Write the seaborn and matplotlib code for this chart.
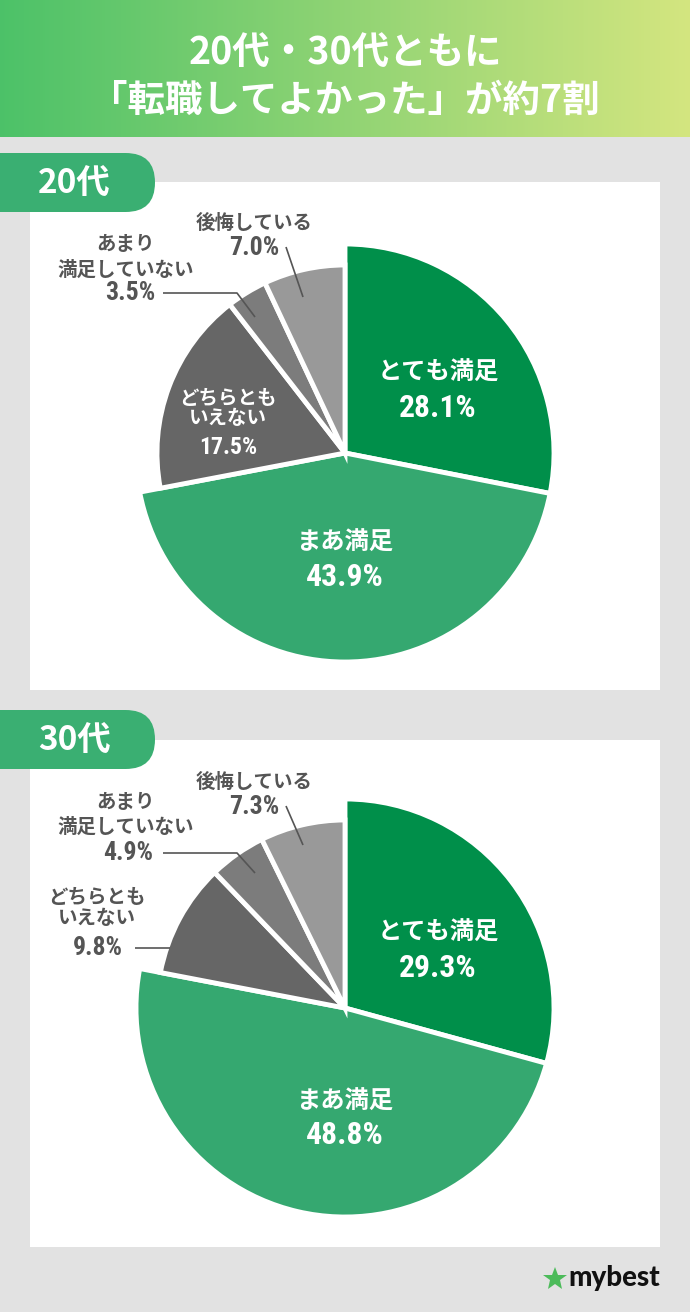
import numpy as np
import matplotlib.pyplot as plt
import seaborn as sns
from matplotlib import font_manager
from matplotlib.patches import Rectangle, FancyBboxPatch

sns.set_theme(style="white")
plt.rcParams['font.family'] = ['Noto Sans CJK JP', 'DejaVu Sans']

# データ
categories = ["とても満足", "まあ満足", "どちらとも\nいえない", "あまり\n満足していない", "後悔している"]
values_20s = [28.1, 43.9, 17.5, 3.5, 7.0]
values_30s = [29.3, 48.8, 9.8, 4.9, 7.3]
colors = ["#008f4a", "#35a870", "#666666", "#7c7c7c", "#999999"]

W, H = 690, 1312
JP = ['Noto Sans CJK JP', 'DejaVu Sans']
GRAY_TXT = "#555555"

# 数字用の細めのフォントを探す（なければ Noto を小さめに）
installed = {(f.name, f.stretch) for f in font_manager.fontManager.ttflist}
names = {n for n, s in installed}
NUM_STRETCH = 'normal'
NUM_SCALE = 1.0
if 'Liberation Sans Narrow' in names:
    NUM = ['Liberation Sans Narrow', 'Noto Sans CJK JP']
elif 'Roboto Condensed' in names:
    NUM = ['Roboto Condensed', 'Noto Sans CJK JP']
    NUM_SCALE = 0.95
elif ('DejaVu Sans', 'condensed') in installed:
    NUM = ['DejaVu Sans', 'Noto Sans CJK JP']
    NUM_STRETCH = 'condensed'
    NUM_SCALE = 0.9
else:
    NUM = ['Noto Sans CJK JP', 'DejaVu Sans']
    NUM_SCALE = 0.9

fig = plt.figure(figsize=(W / 100, H / 100), dpi=100, facecolor="#e2e2e2")
bg = fig.add_axes([0, 0, 1, 1])
bg.set_xlim(0, W)
bg.set_ylim(H, 0)
bg.axis('off')

# ヘッダーのグラデーション
c0 = np.array([0.30, 0.76, 0.41])
c1 = np.array([0.83, 0.90, 0.50])
t = np.linspace(0, 1, 256)[None, :, None]
grad = c0 + (c1 - c0) * t
bg.imshow(grad, extent=[0, W, 137, 0], aspect='auto', zorder=0)
bg.text(345, 52, "20代・30代ともに", ha='center', va='center', fontsize=27,
        fontweight='bold', color='white', family=JP)
bg.text(345, 100, "「転職してよかった」が約7割", ha='center', va='center', fontsize=27,
        fontweight='bold', color='white', family=JP)

# ロゴ
bg.plot([555], [1279], marker='*', markersize=18, color="#4cbb5a", markeredgewidth=0)
bg.text(568, 1278, "mybest", ha='left', va='center', fontsize=20, fontweight='black',
        color="#111111", family=['Lato', 'DejaVu Sans'])


def pct(v):
    return f"{v:.1f}%"


def num_text(ax, x, y, s, size, color, ha='center'):
    ax.text(x, y, s, ha=ha, va='center', fontsize=size * NUM_SCALE, fontweight='bold',
            color=color, family=NUM, fontstretch=NUM_STRETCH)


def inside(ax, idx, values, x, y_name, y_pct, name_size=17.5, pct_size=24, spacing=21):
    for k, line in enumerate(categories[idx].split("\n")):
        ax.text(x, y_name - k * spacing, line, ha='center', va='center', fontsize=name_size,
                fontweight='bold', color='white', family=JP)
    num_text(ax, x, y_pct, pct(values[idx]), pct_size, 'white')


def outside(ax, idx, values, x_name, y_name, x_pct, y_pct, ha, leader, spacing=25):
    for k, line in enumerate(categories[idx].split("\n")):
        ax.text(x_name, y_name - k * spacing, line, ha='center', va='center', fontsize=14,
                fontweight='bold', color=GRAY_TXT, family=JP)
    num_text(ax, x_pct, y_pct, pct(values[idx]), 19.5, GRAY_TXT, ha=ha)
    xs, ys = zip(*leader)
    ax.plot(xs, ys, color=GRAY_TXT, lw=1.2, solid_capstyle='butt')


def panel(top, bottom, cy, tab_top, tab_text, values):
    bg.add_patch(Rectangle((30, top), 630, bottom - top, facecolor='white', edgecolor='none', zorder=1))
    bg.add_patch(FancyBboxPatch((-60, tab_top), 215, 59, boxstyle="round,pad=0,rounding_size=29.5",
                                facecolor="#3aaf72", edgecolor='none', zorder=2))
    bg.text(38, tab_top + 30, tab_text, ha='left', va='center', fontsize=24,
            fontweight='bold', color='white', family=JP, zorder=3)

    ax = fig.add_axes([30 / W, 1 - bottom / H, 630 / W, (bottom - top) / H])
    wedges, _ = ax.pie(values, colors=colors, startangle=90, counterclock=False, radius=209,
                       wedgeprops=dict(edgecolor='white', linewidth=3.5))
    for w in wedges[2:]:
        w.set_radius(188)
    ax.set_xlim(-315, 315)
    ax.set_ylim(cy - bottom, cy - top)
    ax.set_aspect('equal')
    return ax


# 20代
ax1 = panel(182, 690, 453, 153, "20代", values_20s)
inside(ax1, 0, values_20s, 93, 80, 45)
inside(ax1, 1, values_20s, 0, -90, -124)
inside(ax1, 2, values_20s, -117, 55, 6, name_size=14, pct_size=18, spacing=20)
outside(ax1, 4, values_20s, -91, 230, -91, 205, 'center', [(-59, 206), (-42, 156)])
outside(ax1, 3, values_20s, -219, 208, -190, 160, 'right', [(-182, 160), (-108, 160), (-90, 136)])

# 30代
ax2 = panel(740, 1247, 1008, 710, "30代", values_30s)
inside(ax2, 0, values_30s, 93, 75, 40)
inside(ax2, 1, values_30s, 0, -94, -127)
outside(ax2, 4, values_30s, -91, 226, -91, 201, 'center', [(-59, 202), (-42, 163)])
outside(ax2, 3, values_30s, -219, 206, -192, 155, 'right', [(-182, 155), (-108, 155), (-90, 135)])
outside(ax2, 2, values_30s, -248, 111, -222, 60, 'right', [(-210, 60), (-175, 60)], spacing=21)

fig.savefig("out.png", dpi=100, facecolor=fig.get_facecolor())
